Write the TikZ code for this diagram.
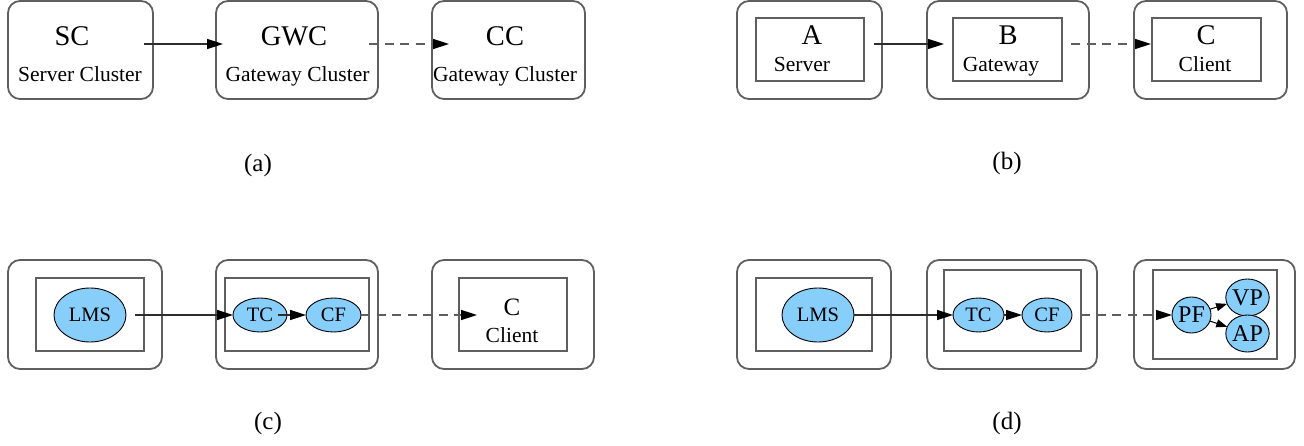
\documentclass[tikz,border=0pt]{standalone}
\usepackage{fontspec}
\setmainfont{Liberation Serif}
\usetikzlibrary{arrows.meta,shapes.geometric}

\definecolor{framegray}{RGB}{95,95,95}
\definecolor{linkgray}{RGB}{45,45,45}
\definecolor{procblue}{RGB}{135,206,250}

\tikzset{
  frame/.style={draw=framegray, line width=1.8pt, rounded corners=12pt,
                inner sep=0pt, outer sep=0pt},
  inbox/.style={draw=framegray, line width=1.8pt, inner sep=0pt, outer sep=0pt},
  proc/.style={ellipse, draw=black, line width=0.9pt, fill=procblue,
               inner sep=0pt, outer sep=0pt,
               font=\fontsize{20.5}{22}\selectfont},
  procL/.style={proc, font=\fontsize{24}{26}\selectfont},
  title/.style={inner sep=0pt, anchor=base, font=\fontsize{28.5}{30}\selectfont},
  titleS/.style={inner sep=0pt, anchor=base, font=\fontsize{25}{27}\selectfont},
  role/.style={inner sep=0pt, anchor=base, font=\fontsize{21.5}{24}\selectfont},
  caption/.style={inner sep=0pt, font=\fontsize{25}{27}\selectfont},
  link/.style={draw=linkgray, line width=1.5pt,
               -{Triangle[length=16pt,width=10pt,color=black]}},
  dlink/.style={link, draw=framegray, dash pattern=on 9pt off 6.5pt},
  slink/.style={draw=black, line width=1pt,
                -{Triangle[length=11pt,width=8pt]}}
}

\begin{document}
\begin{tikzpicture}[x=1pt,y=-1pt]
\useasboundingbox (0,0) rectangle (1304,446);

% ---------------- (a) clusters ----------------
\node[frame, minimum width=145, minimum height=98] (sc)  at (80.5,50) {};
\node[frame, minimum width=162, minimum height=98] (gwc) at (297,50) {};
\node[frame, minimum width=153, minimum height=98] (cc)  at (508.5,50) {};
\node[title] (sct)  at (72,46)  {SC};
\node[role]  (scr)  at (80,82)  {Server Cluster};
\node[title] (gwct) at (294,46) {GWC};
\node[role]  (gwcr) at (297.5,82) {Gateway Cluster};
\node[title] (cct)  at (505,46) {CC};
\node[role]  (ccr)  at (505,82) {Gateway Cluster};
\draw[link]  ([shift={(-9pt,6pt)}]sc.east)  -- ([shift={(7pt,6pt)}]gwc.west);
\draw[dlink] ([shift={(-9pt,6pt)}]gwc.east) -- ([shift={(17pt,6pt)}]cc.west);
\node[caption] (capa) at (258,165) {(a)};

% ---------------- (b) hosts ----------------
\node[frame, minimum width=145, minimum height=98] (oa) at (809.5,50) {};
\node[frame, minimum width=162, minimum height=98] (ob) at (1008,50) {};
\node[frame, minimum width=153, minimum height=98] (oc) at (1210.5,50) {};
\node[inbox, minimum width=108, minimum height=63] (ia) at (810,49.5) {};
\node[inbox, minimum width=109, minimum height=63] (ib) at (1007.5,49.5) {};
\node[inbox, minimum width=109, minimum height=63] (ic) at (1206.5,49.5) {};
\node[title] (at) at (812,45)  {A};
\node[role]  (ar) at (802,72)  {Server};
\node[title] (bt) at (1008,45) {B};
\node[role]  (br) at (1001,72) {Gateway};
\node[title] (ct) at (1206,45) {C};
\node[role]  (cr) at (1205,72) {Client};
\draw[link]  ([shift={(10pt,5.5pt)}]ia.east) -- ([shift={(-9pt,5.5pt)}]ib.west);
\draw[dlink] ([shift={(9pt,5.5pt)}]ib.east)  -- ([shift={(-1pt,5.5pt)}]ic.west);
\node[caption] (capb) at (1007,163) {(b)};

% ---------------- (c) processes ----------------
\node[frame, minimum width=154, minimum height=109] (oc1) at (85,314.5) {};
\node[frame, minimum width=162, minimum height=109] (oc2) at (297,314.5) {};
\node[frame, minimum width=162, minimum height=109] (oc3) at (513,314.5) {};
\node[inbox, minimum width=108, minimum height=73] (ic1) at (90,314.5) {};
\node[inbox, minimum width=144, minimum height=73] (ic2) at (297,314.5) {};
\node[inbox, minimum width=108, minimum height=73] (ic3) at (513,314.5) {};
\node[proc, minimum width=72, minimum height=54] (lmsc) at (90,315) {LMS};
\node[proc, minimum width=54, minimum height=34] (tcc)  at (260,315) {TC};
\node[proc, minimum width=55, minimum height=34] (cfc)  at (333.5,315) {CF};
\node[titleS] (cct2) at (512,316) {C};
\node[role]   (ccl)  at (512,342) {Client};
\draw[link]  ([xshift=9pt]lmsc.east) -- (tcc.west);
\draw[link]  ([xshift=-9pt]tcc.east) -- (cfc.west);
\draw[dlink] (cfc.east) -- ([xshift=18pt]ic3.west |- cfc.east);
\node[caption] (capc) at (268,423) {(c)};

% ---------------- (d) processes ----------------
\node[frame, minimum width=154, minimum height=109] (od1) at (814,314.5) {};
\node[frame, minimum width=170, minimum height=109] (od2) at (1012,314.5) {};
\node[frame, minimum width=161, minimum height=109] (od3) at (1214.5,314.5) {};
\node[inbox, minimum width=116, minimum height=73] (id1) at (814,314.5) {};
\node[inbox, minimum width=137, minimum height=81] (id2) at (1012.5,310.5) {};
\node[inbox, minimum width=124, minimum height=89] (id3) at (1215,314.5) {};
\node[proc, minimum width=72, minimum height=54] (lmsd) at (818,315) {LMS};
\node[proc, minimum width=51, minimum height=34] (tcd)  at (978.5,315) {TC};
\node[proc, minimum width=50, minimum height=34] (cfd)  at (1047,315) {CF};
\node[procL, minimum width=39, minimum height=36] (pfd) at (1191.5,315) {PF};
\node[procL, minimum width=37, minimum height=37] (vpd) at (1247.5,297.5) {VP};
\node[procL, minimum width=37, minimum height=37] (apd) at (1247.5,333.5) {AP};
\draw[link]  (lmsd.east) -- (tcd.west);
\draw[link]  (tcd.east) -- (cfd.west);
\draw[dlink] ([xshift=9pt]cfd.east) -- (pfd.west);
\draw[slink] (pfd) -- (vpd);
\draw[slink] (pfd) -- (apd);
\node[caption] (capd) at (1007,423) {(d)};
\end{tikzpicture}
\end{document}
